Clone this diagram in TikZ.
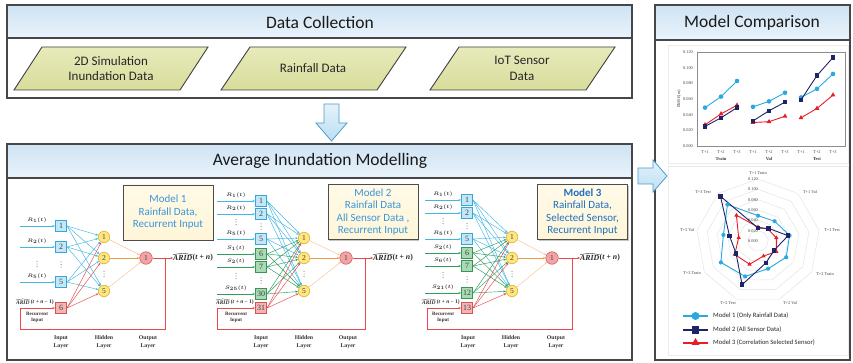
\documentclass[tikz,border=0pt]{standalone}
\usepackage{fontspec}
\usepackage{amsmath,bm}
\setmainfont{Liberation Serif}
\newfontfamily\calf{Carlito}
\usetikzlibrary{shapes.geometric,arrows.meta,shadows}

\definecolor{hdrA}{HTML}{CFE3F3}
\definecolor{hdrB}{HTML}{E9F3FB}
\definecolor{paraF}{HTML}{D8DD9C}
\definecolor{paraG}{HTML}{E7EABA}
\definecolor{arrF}{HTML}{BCDFF3}
\definecolor{arrD}{HTML}{4F9CC6}
\definecolor{cyanL}{HTML}{3FB8E4}
\definecolor{greenL}{HTML}{2E9E5B}
\definecolor{redL}{HTML}{E8474C}
\definecolor{orgL}{HTML}{F8C298}
\definecolor{orgD}{HTML}{F29A45}
\definecolor{bluF}{HTML}{C2E7F6}
\definecolor{bluD}{HTML}{3AA6D6}
\definecolor{grnF}{HTML}{A8DAB3}
\definecolor{grnD}{HTML}{3A9358}
\definecolor{redF}{HTML}{F4B4B4}
\definecolor{redD}{HTML}{D45555}
\definecolor{hidF}{HTML}{FFE680}
\definecolor{hidD}{HTML}{E0B030}
\definecolor{outF}{HTML}{F2A3A6}
\definecolor{outD}{HTML}{D35A5E}
\definecolor{mbF}{HTML}{FFF6D8}
\definecolor{mtxt}{HTML}{3A95DA}
\definecolor{mtxtD}{HTML}{1F6FBF}
\definecolor{mone}{HTML}{29A9E1}
\definecolor{mtwo}{HTML}{1E2566}
\definecolor{mthr}{HTML}{E61E27}

\tikzset{
  panel/.style={draw=black!72, line width=1.1pt, fill=white, drop shadow={shadow xshift=1pt, shadow yshift=-1pt, opacity=0.35}},
  hdr/.style={draw=black!72, line width=1.1pt, top color=hdrA, bottom color=hdrB},
  ttl/.style={font=\calf\fontsize{17.5}{20}\selectfont, text=black!90},
  para/.style={draw=black!75, line width=0.9pt, top color=paraG, bottom color=paraF},
  ptxt/.style={font=\calf\fontsize{13}{15.5}\selectfont, align=center, text=black!85},
  bigarrow/.style={draw=arrD, line width=0.8pt, top color=white!60!arrF, bottom color=arrF},
  inb/.style={rectangle, draw=#1D, fill=#1F, line width=0.6pt, minimum size=11.5pt, inner sep=0pt, font=\fontsize{8}{8}\selectfont, text=black!75},
  hid/.style={circle, draw=hidD, fill=hidF, line width=0.6pt, minimum size=11.5pt, inner sep=0pt, font=\fontsize{7.5}{7.5}\selectfont, text=black!75},
  outn/.style={circle, draw=outD, fill=outF, line width=0.6pt, minimum size=12.5pt, inner sep=0pt, font=\fontsize{7.5}{7.5}\selectfont, text=black!75},
  con/.style={draw=#1, line width=0.45pt, -{Stealth[length=2.6pt,width=2.2pt]}},
  lab/.style={font=\bfseries\boldmath\fontsize{5.3}{6}\selectfont, text=black!80, inner sep=0pt},
  rlab/.style={font=\bfseries\fontsize{5}{5.8}\selectfont, align=center, text=black!80, inner sep=0pt},
  olab/.style={font=\bfseries\fontsize{7.8}{8}\selectfont, text=black!85, inner sep=0pt},
  alab/.style={font=\bfseries\fontsize{5.5}{6}\selectfont, text=black!80, inner sep=0pt},
  hat/.style={draw=black!80, line width=0.3pt},
  ohat/.style={draw=black!85, line width=0.4pt},
  layer/.style={font=\bfseries\fontsize{5.8}{7.5}\selectfont, align=center, text=black!80},
  vd/.pic={\fill[black!65] (0,-2.6) circle (0.5pt); \fill[black!65] (0,0) circle (0.5pt); \fill[black!65] (0,2.6) circle (0.5pt);},
  mbox/.style={draw=black!70, line width=0.9pt, top color=white!40!mbF, bottom color=mbF, minimum width=90pt, minimum height=55pt, align=center, font=\calf\fontsize{11}{12.5}\selectfont, text=mtxt, drop shadow={shadow xshift=1.3pt, shadow yshift=-1.3pt, opacity=0.45}},
  l1/.style={draw=mone, line width=0.9pt},
  l2/.style={draw=mtwo, line width=0.9pt},
  l3/.style={draw=mthr, line width=0.9pt},
  mk1/.style={circle, fill=mone, minimum size=4.6pt, inner sep=0pt},
  mk2/.style={rectangle, fill=mtwo, minimum size=4.3pt, inner sep=0pt},
  mk3/.style={regular polygon, regular polygon sides=3, fill=mthr, minimum size=5.6pt, inner sep=0pt},
  ctxt/.style={font=\fontsize{4.3}{5}\selectfont, text=black!75, inner sep=0pt},
  ring/.style={draw=black!12, line width=0.4pt},
  faint/.style={draw=black!8, line width=0.5pt},
  legt/.style={font=\calf\fontsize{6.6}{7}\selectfont, text=black!85, anchor=west, inner sep=0pt}
}

\begin{document}
\begin{tikzpicture}[x=1pt,y=-1pt]
\useasboundingbox (0,0) rectangle (853,363);
\fill[white] (0,0) rectangle (853,363);

% ================= Data Collection =================
\path[panel] (7,5) rectangle (632,98);
\path[hdr] (7,5) rectangle (632,38);
\node[ttl] (tDC) at (320,22) {Data Collection};

\path[para] (14,90) -- (42,47) -- (208,47) -- (180,90) -- cycle;
\node[ptxt] (d1) at (111,68.5) {2D Simulation\\Inundation Data};
\path[para] (221,90) -- (250,47) -- (406,47) -- (377,90) -- cycle;
\node[ptxt] (d2) at (313,68.5) {Rainfall Data};
\path[para] (430,90) -- (459,47) -- (615,47) -- (586,90) -- cycle;
\node[ptxt] (d3) at (522,68.5) {IoT Sensor\\Data};

% ================= Average Inundation Modelling =================
\path[panel] (7,144) rectangle (632,360);
\path[hdr] (7,144) rectangle (632,178);
\node[ttl] (tAI) at (320,161) {Average Inundation Modelling};

% down arrow
\path[bigarrow] (324,104) -- (339,104) -- (339,123) -- (347,123) -- (331.5,141) -- (316,123) -- (324,123) -- cycle;

% ---------- Model 1 ----------
\node[mbox] (mb1) at (168,212.5) {Model 1\\Rainfall Data,\\Recurrent Input};
\foreach \n/\yy in {1/226,2/247,5/282}{
  \node[inb=blu] (a\n) at (61,\yy) {\n};
  \coordinate (as\n) at (20,\yy);
  \draw[con=cyanL] (as\n) -- (a\n);
  \node[lab] (al\n) at (37,\yy-6) {$R_{\n}(t)$};
}
\node[inb=red] (a6) at (61,308) {6};
\foreach \h/\hy in {1/237,2/258,5/291} \node[hid] (ah\h) at (104,\hy) {\h};
\node[outn] (ao) at (146,258) {1};
\foreach \i in {1,2,5} \foreach \h in {1,2,5} \draw[con=cyanL] (a\i.east) -- (ah\h);
\foreach \h in {1,2,5} \draw[con=redL] (a6.east) -- (ah\h);
\draw[con=orgL] (ah1) -- (ao);
\draw[con=orgD] (ah2) -- (ao);
\draw[con=orgL] (ah5) -- (ao);
\node[olab, anchor=west] (ay) at (173,258) {\textit{ARID}};
\node[olab, anchor=west] (ay2) at (ay.east) {(\textit{t} + \textit{n})};
\draw[ohat] ([yshift=0.6pt]ay.north west) -- ([yshift=2pt]ay.north) -- ([yshift=0.6pt]ay.north east);
\draw[con=redL, line width=0.9pt] (ao) -- (ay.west);
\coordinate (ab1) at (165,258);
\coordinate (ab2) at (20,329);
\draw[con=redL, line width=0.7pt] (ab1) |- (ab2) |- (a6);
\node[alab, anchor=east] (ar1b) at (54,302.5) {\,(\textit{t} + \textit{n} − 1)};
\node[alab, anchor=east] (ar1a) at (ar1b.west) {\textit{ARID}};
\draw[hat] ([yshift=0.5pt]ar1a.north west) -- ([yshift=1.6pt]ar1a.north) -- ([yshift=0.5pt]ar1a.north east);
\node[rlab] (rc1) at (37,317.5) {Recurrent\\Input};
\pic at (37,264) {vd};
\pic at (61,264.5) {vd};
\pic at (104,274) {vd};
\node[layer] (ly1) at (61,342) {Input\\Layer};
\node[layer] (ly2) at (104,342) {Hidden\\Layer};
\node[layer] (ly3) at (148,342) {Output\\Layer};

% ---------- Model 2 ----------
\node[mbox] (mb2) at (373,212) {Model 2\\Rainfall Data\\All Sensor Data ,\\Recurrent Input};
\foreach \n/\yy/\s in {1/201/1,2/214/2,5/239/5}{
  \node[inb=blu] (b\n) at (261,\yy) {\n};
  \coordinate (bs\n) at (217,\yy);
  \draw[con=cyanL] (bs\n) -- (b\n);
  \node[lab] (bl\n) at (236,\yy-6) {$R_{\s}(t)$};
}
\foreach \n/\yy/\s in {6/254/1,7/267/2,30/294/{25}}{
  \node[inb=grn] (b\n) at (261,\yy) {\n};
  \coordinate (bs\n) at (217,\yy);
  \draw[con=greenL] (bs\n) -- (b\n);
  \node[lab] (bl\n) at (236,\yy-6) {$S_{\s}(t)$};
}
\node[inb=red] (b31) at (261,308) {31};
\foreach \h/\hy in {1/238,2/258,5/291} \node[hid] (bh\h) at (304,\hy) {\h};
\node[outn] (bo) at (346,258) {1};
\foreach \i in {1,2,5} \foreach \h in {1,2,5} \draw[con=cyanL] (b\i.east) -- (bh\h);
\foreach \i in {6,7,30} \foreach \h in {1,2,5} \draw[con=greenL] (b\i.east) -- (bh\h);
\foreach \h in {1,2,5} \draw[con=redL] (b31.east) -- (bh\h);
\draw[con=orgL] (bh1) -- (bo);
\draw[con=orgD] (bh2) -- (bo);
\draw[con=orgL] (bh5) -- (bo);
\node[olab, anchor=west] (by) at (373,258) {\textit{ARID}};
\node[olab, anchor=west] (by2) at (by.east) {(\textit{t} + \textit{n})};
\draw[ohat] ([yshift=0.6pt]by.north west) -- ([yshift=2pt]by.north) -- ([yshift=0.6pt]by.north east);
\draw[con=redL, line width=0.9pt] (bo) -- (by.west);
\coordinate (bb1) at (365,258);
\coordinate (bb2) at (217,329);
\draw[con=redL, line width=0.7pt] (bb1) |- (bb2) |- (b31);
\node[alab, anchor=east] (br1b) at (254,302.5) {\,(\textit{t} + \textit{n} − 1)};
\node[alab, anchor=east] (br1a) at (br1b.west) {\textit{ARID}};
\draw[hat] ([yshift=0.5pt]br1a.north west) -- ([yshift=1.6pt]br1a.north) -- ([yshift=0.5pt]br1a.north east);
\node[rlab] (rc2) at (236,317.5) {Recurrent\\Input};
\pic at (236,222) {vd};
\pic at (261,226.5) {vd};
\pic at (236,276) {vd};
\pic at (261,280.5) {vd};
\pic at (304,274) {vd};
\node[layer] (ly4) at (261,342) {Input\\Layer};
\node[layer] (ly5) at (304,342) {Hidden\\Layer};
\node[layer] (ly6) at (348,342) {Output\\Layer};

% ---------- Model 3 ----------
\node[mbox, text=mtxtD] (mb3) at (582.5,212) {\textbf{Model 3}\\Rainfall Data,\\Selected Sensor,\\Recurrent Input};
\foreach \n/\yy/\s in {1/200/1,2/213/2,5/239/5}{
  \node[inb=blu] (c\n) at (467,\yy) {\n};
  \coordinate (cs\n) at (425,\yy);
  \draw[con=cyanL] (cs\n) -- (c\n);
  \node[lab] (cl\n) at (443,\yy-6) {$R_{\s}(t)$};
}
\foreach \n/\yy/\s in {6/253/2,7/266/6,12/293/{21}}{
  \node[inb=grn] (c\n) at (467,\yy) {\n};
  \coordinate (cs\n) at (425,\yy);
  \draw[con=greenL] (cs\n) -- (c\n);
  \node[lab] (cl\n) at (443,\yy-6) {$S_{\s}(t)$};
}
\node[inb=red] (c13) at (467,308) {13};
\foreach \h/\hy in {1/237,2/258,5/291} \node[hid] (ch\h) at (512,\hy) {\h};
\node[outn] (co) at (552,258) {1};
\foreach \i in {1,2,5} \foreach \h in {1,2,5} \draw[con=cyanL] (c\i.east) -- (ch\h);
\foreach \i in {6,7,12} \foreach \h in {1,2,5} \draw[con=greenL] (c\i.east) -- (ch\h);
\foreach \h in {1,2,5} \draw[con=redL] (c13.east) -- (ch\h);
\draw[con=orgL] (ch1) -- (co);
\draw[con=orgD] (ch2) -- (co);
\draw[con=orgL] (ch5) -- (co);
\node[olab, anchor=west] (cy) at (580,258) {\textit{ARID}};
\node[olab, anchor=west] (cy2) at (cy.east) {(\textit{t} + \textit{n})};
\draw[ohat] ([yshift=0.6pt]cy.north west) -- ([yshift=2pt]cy.north) -- ([yshift=0.6pt]cy.north east);
\draw[con=redL, line width=0.9pt] (co) -- (cy.west);
\coordinate (cb1) at (572,258);
\coordinate (cb2) at (427,329);
\draw[con=redL, line width=0.7pt] (cb1) |- (cb2) |- (c13);
\node[alab, anchor=east] (cr1b) at (460,302.5) {\,(\textit{t} + \textit{n} − 1)};
\node[alab, anchor=east] (cr1a) at (cr1b.west) {\textit{ARID}};
\draw[hat] ([yshift=0.5pt]cr1a.north west) -- ([yshift=1.6pt]cr1a.north) -- ([yshift=0.5pt]cr1a.north east);
\node[rlab] (rc3) at (443,317.5) {Recurrent\\Input};
\pic at (443,221) {vd};
\pic at (467,226) {vd};
\pic at (443,275) {vd};
\pic at (467,279.5) {vd};
\pic at (512,274) {vd};
\node[layer] (ly7) at (468,342) {Input\\Layer};
\node[layer] (ly8) at (511,342) {Hidden\\Layer};
\node[layer] (ly9) at (556,342) {Output\\Layer};

% ================= Model Comparison =================
\path[panel] (655,5) rectangle (850,360);
\path[hdr] (655,5) rectangle (850,40);
\node[ttl] (tMC) at (752,23) {Model Comparison};

% right arrow
\path[bigarrow] (638,168) -- (653,168) -- (653,160) -- (667,176) -- (653,192) -- (653,184) -- (638,184) -- cycle;

\draw[faint] (668,45) rectangle (848,163);
\draw[faint] (668,166) rectangle (848,355);

% line chart
\draw[draw=black!45, line width=0.45pt] (697,52) rectangle (845,146);
\node[ctxt, rotate=90] (rmse) at (679,99) {RMSE(m)};
\foreach \v/\t [count=\j] in {0.000/0.000,0.020/0.020,0.040/0.040,0.060/0.060,0.080/0.080,0.100/0.100,0.120/0.120}
  \node[ctxt] (yt\j) at (688,{146-783.33*\v}) {\t};
\foreach \g/\gn [count=\j from 0] in {Train/tr,Val/va,Test/te}{
  \node[ctxt] (xa\gn) at ({705+48*\j},152.5) {T+1};
  \node[ctxt] (xb\gn) at ({721+48*\j},152.5) {T+2};
  \node[ctxt] (xc\gn) at ({737+48*\j},152.5) {T+3};
  \node[ctxt, font=\bfseries\fontsize{4.6}{5}\selectfont] (xg\gn) at ({721+48*\j},159) {\g};
}
\begin{scope}[shift={(0,146)}, y=783.33pt]
  \foreach \va/\vb/\vc [count=\g from 0] in {0.049/0.063/0.083,0.050/0.057/0.068,0.062/0.073/0.092}{
    \draw[l1] ({705+48*\g},\va) -- ({721+48*\g},\vb) -- ({737+48*\g},\vc);
    \node[mk1] (pA\g1) at ({705+48*\g},\va) {};
    \node[mk1] (pA\g2) at ({721+48*\g},\vb) {};
    \node[mk1] (pA\g3) at ({737+48*\g},\vc) {};
  }
  \foreach \va/\vb/\vc [count=\g from 0] in {0.027/0.041/0.052,0.030/0.031/0.038,0.036/0.048/0.065}{
    \draw[l3] ({705+48*\g},\va) -- ({721+48*\g},\vb) -- ({737+48*\g},\vc);
    \node[mk3] (pC\g1) at ({705+48*\g},\va) {};
    \node[mk3] (pC\g2) at ({721+48*\g},\vb) {};
    \node[mk3] (pC\g3) at ({737+48*\g},\vc) {};
  }
  \foreach \va/\vb/\vc [count=\g from 0] in {0.025/0.036/0.049,0.032/0.045/0.056,0.059/0.090/0.113}{
    \draw[l2] ({705+48*\g},\va) -- ({721+48*\g},\vb) -- ({737+48*\g},\vc);
    \node[mk2] (pB\g1) at ({705+48*\g},\va) {};
    \node[mk2] (pB\g2) at ({721+48*\g},\vb) {};
    \node[mk2] (pB\g3) at ({737+48*\g},\vc) {};
  }
\end{scope}

% radar chart
\begin{scope}[shift={(758,241)}, x=516.7pt, y=516.7pt]
  \foreach \v in {0.02,0.04,0.06,0.08,0.10,0.12}
    \draw[ring] (0,\v) \foreach \k in {1,...,8}{ -- ({\v*sin(40*\k)},{\v*cos(40*\k)}) } -- cycle;
  \foreach \v [count=\k from 0] in {0.049,0.050,0.062,0.063,0.057,0.073,0.083,0.068,0.092}
    \coordinate (rA\k) at ({\v*sin(40*\k)},{\v*cos(40*\k)});
  \foreach \v [count=\k from 0] in {0.025,0.032,0.059,0.036,0.045,0.090,0.049,0.056,0.113}
    \coordinate (rB\k) at ({\v*sin(40*\k)},{\v*cos(40*\k)});
  \foreach \v [count=\k from 0] in {0.027,0.030,0.036,0.041,0.031,0.048,0.052,0.038,0.065}
    \coordinate (rC\k) at ({\v*sin(40*\k)},{\v*cos(40*\k)});
\end{scope}
\foreach \v/\t [count=\j] in {0.000/0.000,0.020/0.020,0.040/0.040,0.060/0.060,0.080/0.080,0.100/0.100,0.120/0.120}
  \node[ctxt] (rt\j) at (753,{241-516.7*\v}) {\t};
\draw[l1] (rA0) -- (rA1) -- (rA2) -- (rA3) -- (rA4) -- (rA5) -- (rA6) -- (rA7) -- (rA8) -- cycle;
\draw[l3] (rC0) -- (rC1) -- (rC2) -- (rC3) -- (rC4) -- (rC5) -- (rC6) -- (rC7) -- (rC8) -- cycle;
\draw[l2] (rB0) -- (rB1) -- (rB2) -- (rB3) -- (rB4) -- (rB5) -- (rB6) -- (rB7) -- (rB8) -- cycle;
\foreach \k in {0,...,8}{
  \node[mk1, minimum size=4.2pt] (qA\k) at (rA\k) {};
  \node[mk3, minimum size=5pt] (qC\k) at (rC\k) {};
  \node[mk2, minimum size=4.6pt] (qB\k) at (rB\k) {};
}
\node[ctxt] (ax0) at (758,173) {T+1 Train};
\node[ctxt] (ax1) at (810,192) {T+1 Val};
\node[ctxt] (ax2) at (832,230) {T+1 Test};
\node[ctxt] (ax3) at (825,274) {T+2 Train};
\node[ctxt] (ax4) at (790,303) {T+2 Val};
\node[ctxt] (ax5) at (728,303) {T+2 Test};
\node[ctxt] (ax6) at (692,273) {T+3 Train};
\node[ctxt] (ax7) at (687,230) {T+3 Val};
\node[ctxt] (ax8) at (703,192) {T+3 Test};

% legend
\coordinate (g1a) at (683,316); \coordinate (g1b) at (708,316);
\coordinate (g2a) at (683,330); \coordinate (g2b) at (708,330);
\coordinate (g3a) at (683,343); \coordinate (g3b) at (708,343);
\draw[l1, line width=1.6pt] (g1a) -- (g1b);
\draw[l2, line width=1.6pt] (g2a) -- (g2b);
\draw[l3, line width=1.6pt] (g3a) -- (g3b);
\node[mk1, minimum size=8pt] (gm1) at (695.5,316) {};
\node[mk2, minimum size=7.5pt] (gm2) at (695.5,330) {};
\node[mk3, minimum size=9pt] (gm3) at (695.5,342.5) {};
\node[legt] (gt1) at (713,316) {Model 1 (Only Rainfall Data)};
\node[legt] (gt2) at (713,330) {Model 2 (All Sensor Data)};
\node[legt] (gt3) at (713,343) {Model 3 (Correlation Selected Sensor)};
\end{tikzpicture}
\end{document}
